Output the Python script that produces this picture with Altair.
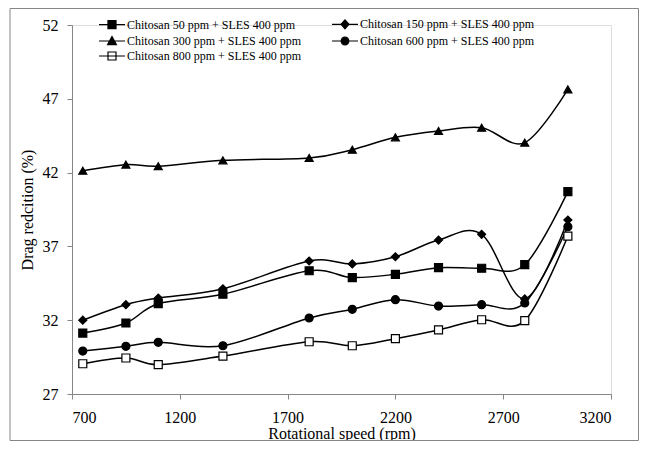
import altair as alt
import pandas as pd

rpm = [750, 950, 1100, 1400, 1800, 2000, 2200, 2400, 2600, 2800, 3000]
c50 = [31.13, 31.81, 33.12, 33.76, 35.35, 34.89, 35.11, 35.56, 35.52, 35.76, 40.71]
c150 = [32.00, 33.05, 33.50, 34.13, 36.01, 35.81, 36.30, 37.43, 37.82, 33.44, 38.79]
c300 = [42.13, 42.54, 42.43, 42.83, 42.99, 43.55, 44.39, 44.82, 45.04, 44.03, 47.64]
c600 = [29.91, 30.23, 30.50, 30.27, 32.15, 32.74, 33.39, 32.96, 33.05, 33.17, 38.33]
c800 = [29.05, 29.44, 28.99, 29.57, 30.54, 30.27, 30.75, 31.34, 32.03, 31.97, 37.70]

labels = [
    "Chitosan 50 ppm + SLES 400 ppm",
    "Chitosan 150 ppm + SLES 400 ppm",
    "Chitosan 300 ppm + SLES 400 ppm",
    "Chitosan 600 ppm + SLES 400 ppm",
    "Chitosan 800 ppm + SLES 400 ppm",
]
series_values = [c50, c150, c300, c600, c800]
point_shapes = ["square", "diamond", "triangle-up", "circle", "square"]
fills = ["black", "black", "black", "black", "white"]
strokes = ["black"] * 5
LINE = "M-1.18,0H3.55"
legend_shapes = [
    LINE + "M0.45,-0.73H1.91V0.73H0.45Z",
    LINE + "M1.18,-0.8L1.9,0L1.18,0.8L0.46,0Z",
    LINE + "M1.18,-0.8L1.98,0.65H0.38Z",
    LINE + "M0.48,0A0.7,0.7,0,1,0,1.88,0A0.7,0.7,0,1,0,0.48,0Z",
    LINE + "M0.45,-0.73H1.91V0.73H0.45Z",
]
x_ticks = [700, 1200, 1700, 2200, 2700, 3200]
y_ticks = [27, 32, 37, 42, 47, 52]

rows = []
for lab, vals in zip(labels, series_values):
    for r, v in zip(rpm, vals):
        rows.append({"rpm": r, "dr": v, "series": lab})
df = pd.DataFrame(rows)

FONT = "Liberation Serif"
GRAY = "#868686"

x = alt.X("rpm:Q", scale=alt.Scale(domain=[700, 3200], nice=False, zero=False),
          axis=alt.Axis(values=x_ticks, format="d", title="Rotational speed (rpm)", grid=False,
                        domainColor=GRAY, tickColor=GRAY, tickSize=5,
                        labelFont=FONT, labelFontSize=16, labelColor="black", labelPadding=10,
                        titleFont=FONT, titleFontSize=16, titleFontWeight="normal",
                        titleColor="black", titlePadding=0))
y = alt.Y("dr:Q", scale=alt.Scale(domain=[27, 52], nice=False, zero=False),
          axis=alt.Axis(values=y_ticks, format="d", title="Drag redcition (%)", grid=False,
                        domainColor=GRAY, tickColor=GRAY, tickSize=5,
                        labelFont=FONT, labelFontSize=16, labelColor="black", labelPadding=9,
                        titleFont=FONT, titleFontSize=16, titleFontWeight="normal",
                        titleColor="black", titlePadding=7))

lines = alt.Chart(df).mark_line(interpolate="cardinal", color="black", strokeWidth=1.5).encode(
    x=x, y=y, detail="series:N"
)

point_layers = []
for lab, shp, fc in zip(labels, point_shapes, fills):
    point_layers.append(
        alt.Chart(df).transform_filter(alt.datum.series == lab).mark_point(
            shape=shp, size=64, stroke="black", strokeWidth=1.2, fill=fc, filled=True, opacity=1
        ).encode(x=x, y=y)
    )

leg = alt.Legend(title=None, orient="none", legendX=27, legendY=-7.5, direction="horizontal",
                 columns=2, columnPadding=27, rowPadding=2,
                 symbolSize=121, symbolStrokeWidth=1.2, symbolOpacity=1,
                 labelFont=FONT, labelFontSize=12, labelColor="black",
                 labelOffset=15, labelLimit=400, padding=0)

legend_layer = alt.Chart(df).mark_point(size=0, filled=True, strokeWidth=1.2).encode(
    x=x, y=y,
    shape=alt.Shape("series:N", scale=alt.Scale(domain=labels, range=legend_shapes), legend=leg),
    fill=alt.Fill("series:N", scale=alt.Scale(domain=labels, range=fills), legend=leg),
    stroke=alt.Stroke("series:N", scale=alt.Scale(domain=labels, range=strokes), legend=leg),
)

frame = alt.Chart(pd.DataFrame({"a": [0]})).mark_rect(
    filled=False, stroke=GRAY, strokeWidth=1
).encode(x=alt.value(-62), x2=alt.value(566.5), y=alt.value(-16.5), y2=alt.value(415.5))

chart = alt.layer(frame, lines, *point_layers, legend_layer).properties(
    width=539, height=369,
    padding={"left": 64, "top": 17, "right": 28, "bottom": 47},
    autosize=alt.AutoSizeParams(type="none"),
).configure_view(stroke=None).configure(background="white")

chart.save("out.html", embed_options={"renderer": "svg", "actions": False})
